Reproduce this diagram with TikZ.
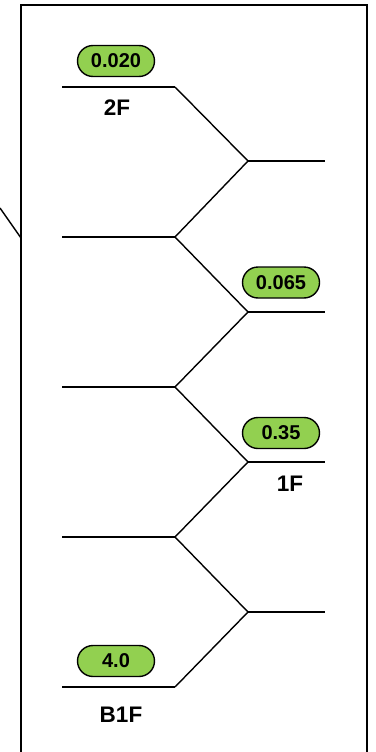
\documentclass[tikz,border=0pt]{standalone}
\usepackage{fontspec}
\setmainfont{Liberation Sans}
\definecolor{pillgreen}{HTML}{92D050}
\begin{document}
\begin{tikzpicture}[x=1pt,y=-1pt,
  ln/.style={line width=1.4pt,line cap=butt},
  frame/.style={line width=1.7pt},
  pill/.style={draw,line width=1.4pt,fill=pillgreen,rounded corners=15.5pt,minimum width=77pt,minimum height=31pt,inner sep=0pt,font=\fontsize{20}{20}\selectfont\bfseries},
  floor/.style={inner sep=0pt,font=\fontsize{22.5}{22.5}\selectfont\bfseries}]
\useasboundingbox (0,0) rectangle (375,752);
% frame
\coordinate (fbl) at (21,752);
\coordinate (ftl) at (21,5);
\coordinate (ftr) at (367,5);
\coordinate (fbr) at (367,752);
\draw[frame] (fbl) -- (ftl) -- (ftr) -- (fbr);
\coordinate (ds) at (0,208);
\coordinate (de) at (21,238);
\draw[ln] (ds) -- (de);
% left levels
\foreach \n/\y in {a/87,b/237,c/387,d/537,e/687}{
  \coordinate (L\n) at (62,\y);
  \coordinate (J\n) at (175,\y);
  \draw[ln] (L\n) -- (J\n);
}
% right levels
\foreach \n/\y in {p/161,q/312,r/462,s/612}{
  \coordinate (M\n) at (248,\y);
  \coordinate (R\n) at (325,\y);
  \draw[ln] (M\n) -- (R\n);
}
\draw[ln] (Ja) -- (Mp) -- (Jb) -- (Mq) -- (Jc) -- (Mr) -- (Jd) -- (Ms) -- (Je);
% pills
\node[pill] (p1) at (116,61) {0.020};
\node[pill] (p2) at (281,282.5) {0.065};
\node[pill] (p3) at (281,433) {0.35};
\node[pill] (p4) at (116,661) {4.0};
% floor labels
\node[floor] (f2) at (117,107.5) {2F};
\node[floor] (f1) at (290,484) {1F};
\node[floor] (fb) at (121,715) {B1F};
\end{tikzpicture}
\end{document}
